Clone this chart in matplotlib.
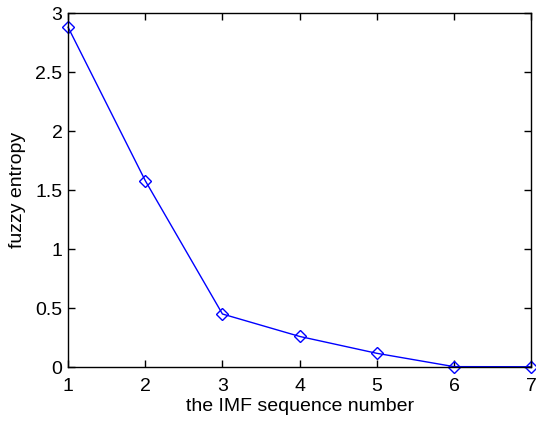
import matplotlib
matplotlib.use("Agg")
import matplotlib.pyplot as plt

# IMF index and fuzzy entropy values
imf_number = [1, 2, 3, 4, 5, 6, 7]
fuzzy_entropy = [2.88, 1.58, 0.45, 0.26, 0.117, 0.004, 0.003]

plt.rcParams['font.family'] = ['Liberation Sans', 'DejaVu Sans']

fig = plt.figure(figsize=(5.36, 4.21), dpi=100)
ax = fig.add_axes([0.127, 0.128, 0.864, 0.841])

ax.plot(imf_number, fuzzy_entropy, color='blue', linewidth=1,
        marker='D', markersize=6, markerfacecolor='none',
        markeredgecolor='blue', markeredgewidth=1, clip_on=False)

ax.set_xlim(1, 7)
ax.set_ylim(0, 3)
ax.set_xticks([1, 2, 3, 4, 5, 6, 7])
ax.set_yticks([0, 0.5, 1, 1.5, 2, 2.5, 3])
ax.set_yticklabels(['0', '0.5', '1', '1.5', '2', '2.5', '3'])
ax.tick_params(direction='in', top=True, right=True, labelsize=14, length=5, width=1)
ax.tick_params(axis='x', pad=8)
ax.tick_params(axis='y', pad=4)
for s in ax.spines.values():
    s.set_linewidth(1)

ax.set_xlabel('the IMF sequence number', fontsize=14, labelpad=2)
ax.set_ylabel('fuzzy entropy', fontsize=14, labelpad=7)

fig.savefig('out.png', dpi=100)
